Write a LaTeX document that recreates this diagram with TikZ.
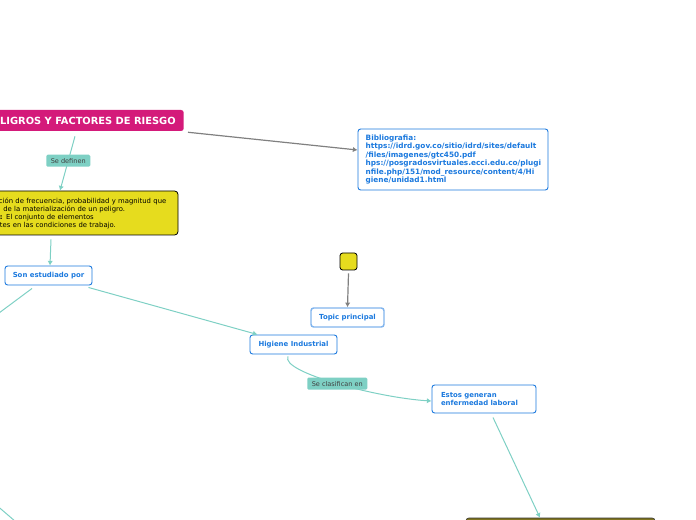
\documentclass[tikz,border=0pt]{standalone}
\usepackage{fontspec}
\setmainfont{DejaVu Sans}
\usetikzlibrary{arrows.meta,positioning}
\definecolor{mapTeal}{RGB}{126,208,196}
\definecolor{mapBlue}{RGB}{27,121,222}
\definecolor{mapYellow}{RGB}{230,220,30}
\definecolor{mapMagenta}{RGB}{212,26,122}
\definecolor{mapGray}{RGB}{128,128,128}
\definecolor{mapOlive}{RGB}{128,116,32}

\begin{document}
\begin{tikzpicture}[x=0.75pt,y=-0.75pt,
  concept/.style={draw=mapBlue,fill=white,rounded corners=2pt,line width=0.7pt,text=mapBlue,font=\fontsize{5.2}{6.3}\selectfont\bfseries,align=left,inner sep=0pt},
  tag/.style={fill=mapTeal,rounded corners=1pt,text=black!75,font=\fontsize{4.9}{6}\selectfont,inner sep=0pt,minimum height=9pt},
  link/.style={mapTeal,line width=0.75pt,-{Latex[length=3.5pt,width=4pt]}},
  plain/.style={mapTeal,line width=0.75pt},
  ref/.style={mapGray,line width=0.9pt,-{Latex[length=3.5pt,width=4pt]}}
]
  \useasboundingbox (0,0) rectangle (696,520);
  \clip (0,0) rectangle (696,520);
  \node[fill=mapMagenta,text=white,rounded corners=2pt,font=\fontsize{7.4}{9}\selectfont\bfseries,minimum height=15.75pt,inner xsep=6pt,inner ysep=0pt,anchor=east] (title) at (184,120.5) {PELIGROS Y FACTORES DE RIESGO};
  \node[draw=black,fill=mapYellow,rounded corners=2.5pt,line width=0.6pt,minimum height=33pt,text width=126pt,inner xsep=7.5pt,inner ysep=0pt,align=left,font=\fontsize{5.15}{6}\selectfont] (definition) at (84,213) {\hspace*{-0.8pt}ción de frecuencia, probabilidad y magnitud que\\\hspace*{2.5pt}de la  materialización de un peligro.\\\textbf{:} El conjunto de elementos\\tes en las condiciones de trabajo.};
  \node[concept,minimum width=65.25pt,minimum height=14.25pt] (studied) at (48.5,275.5) {Son estudiado por};
  \node[concept,minimum width=65.25pt,minimum height=14.25pt] (hygiene) at (293.5,344.5) {Higiene Industrial};
  \node[concept,draw=mapBlue!55,line width=1.1pt,minimum width=54.75pt,minimum height=14.25pt] (topic) at (347.5,317.5) {Topic principal};
  \node[concept,minimum width=78pt,minimum height=21pt,text width=64.5pt] (generate) at (484,399) {Estos generan\\enfermedad laboral};
  \node[concept,minimum width=142.5pt,minimum height=45.75pt,text width=131pt,font=\fontsize{5.5}{6.3}\selectfont\bfseries] (biblio) at (453,159.5) {Bibliografia:\\https://idrd.gov.co/sitio/idrd/sites/default\\/files/imagenes/gtc450.pdf\\hps://posgradosvirtuales.ecci.edu.co/plugi\\nfile.php/151/mod\_resource/content/4/Hi\\giene/unidad1.html};
  \node[draw=black,fill=mapYellow,rounded corners=2pt,line width=0.6pt,minimum size=12.75pt,inner sep=0pt] (marker) at (348.5,261.5) {};
  \node[draw=black!80,fill=mapOlive,rounded corners=2pt,minimum width=141.75pt,minimum height=30pt,inner sep=0pt] (bottom) at (560.5,538) {};
  \coordinate (offLeft) at (-40,342);
  \coordinate (edgeIn) at (-20,491);
  \coordinate (edgeOut) at (30,534);
  \draw[link] ([shift={(-109,5)}]title.south east) -- node[tag,minimum width=33pt,pos=0.45] {Se definen} ([shift={(-24,0)}]definition.north);
  \draw[link] ([shift={(-33,4)}]definition.south) -- ([shift={(1.5,0)}]studied.north);
  \draw[plain] ([shift={(-16.5,3)}]studied.south) -- (offLeft);
  \draw[link] ([shift={(-4,2)}]studied.south east) -- ([shift={(8,0)}]hygiene.north west);
  \draw[ref] ([shift={(0,3)}]marker.south) -- (topic.north);
  \draw[ref] ([shift={(4,1)}]title.south east) -- ([shift={(0,-9.5)}]biblio.west);
  \draw[link] ([shift={(-5.5,2)}]hygiene.south) .. controls +(-8,16) and +(-52,-3) .. node[tag,minimum width=45pt] {Se clasifican en} ([shift={(0,2)}]generate.west);
  \draw[link] ([shift={(9,4)}]generate.south) -- ([shift={(-20.5,0)}]bottom.north);
  \draw[plain] (edgeIn) -- (edgeOut);
\end{tikzpicture}
\end{document}
